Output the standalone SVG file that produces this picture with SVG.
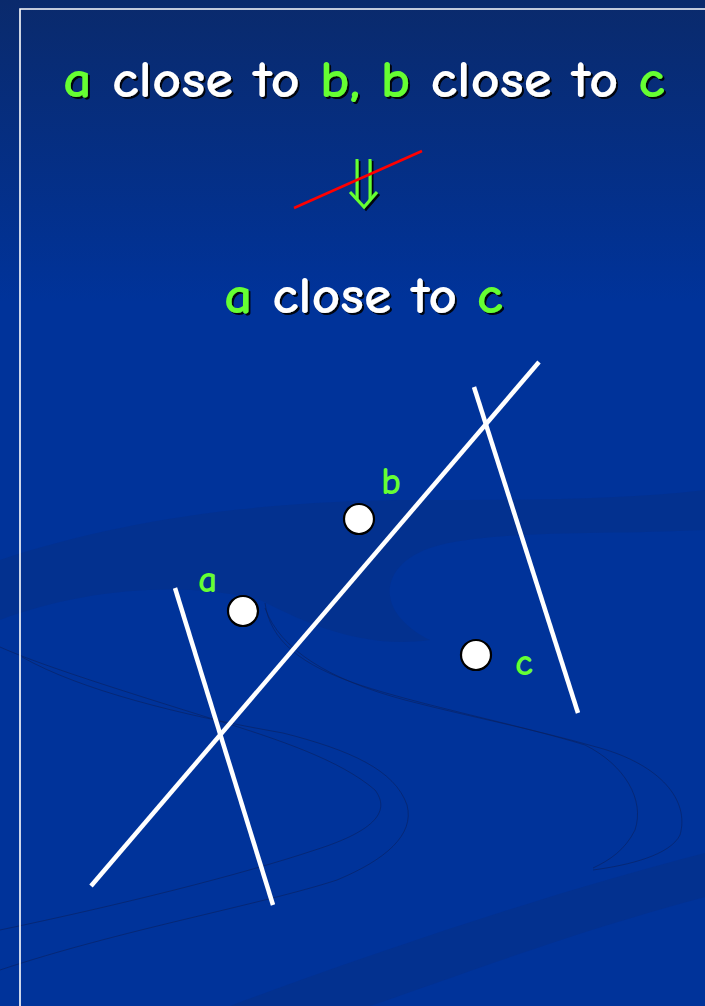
<svg xmlns="http://www.w3.org/2000/svg" width="705" height="1006" viewBox="0 0 705 1006">
<defs>
<linearGradient id="bg" x1="0" y1="0" x2="0" y2="1">
<stop offset="0" stop-color="#0a2a6c"/>
<stop offset="0.3" stop-color="#00339a"/>
<stop offset="1" stop-color="#00339a"/>
</linearGradient>
<filter id="sh" x="-5%" y="-20%" width="115%" height="150%">
<feDropShadow dx="2" dy="2" stdDeviation="0.4" flood-color="#000" flood-opacity="0.9"/>
</filter>
</defs>
<style>
.t{font-family:"Comic Sans MS","Comic Neue","Noto Sans",sans-serif;fill:#fff;font-weight:bold}
.g{fill:#66ff33}
.ln{stroke:#fff;stroke-width:4.5;fill:none}
.pt{fill:#fff;stroke:#000;stroke-width:2.2}
.sw{fill:none;stroke:#0a1f5a;stroke-width:0.8;opacity:0.7}
.dk{fill:#062f86;opacity:0.55}
</style>
<rect width="705" height="1006" fill="url(#bg)"/>
<g id="background">
<path class="dk" d="M0,560 C120,520 260,500 420,500 C520,500 620,500 705,490 L705,530 C600,535 500,530 440,545 C380,560 370,610 430,640 C360,650 300,620 260,600 C180,580 80,590 0,620 Z"/>
<path class="dk" d="M230,1006 C380,950 560,890 705,853 L705,897 C580,930 460,975 370,1006 Z"/>
<path class="sw" d="M0,647 C40,665 120,690 216,720 C280,740 340,760 375,790 C390,810 378,830 315,850 C240,875 120,905 0,930"/>
<path class="sw" d="M22,657 C80,690 180,715 283,733 C350,750 395,770 407,805 C415,835 385,860 337,880 C260,905 120,930 0,970"/>
<path class="sw" d="M265,603 C270,640 300,665 360,685 C420,705 520,725 585,745 C625,765 645,800 635,830 C625,850 610,860 593,868"/>
<path class="sw" d="M265,608 C280,650 330,680 405,700 C470,717 530,728 600,748 C660,765 690,800 680,835 C670,855 630,865 593,870"/>
</g>
<g id="frame">
<path d="M20,1006 V9 H705" fill="none" stroke="#fff" stroke-width="1.6"/>
</g>
<g id="title" filter="url(#sh)">
<text class="t" x="63" y="97" font-size="52" textLength="602" lengthAdjust="spacingAndGlyphs"><tspan class="g">a</tspan> close to <tspan class="g">b, b</tspan> close to <tspan class="g">c</tspan></text>
</g>
<g id="implies">
<g filter="url(#sh)" fill="none" stroke="#66ff33" stroke-width="3">
<path d="M357,159 V200 M370,159 V200"/>
<path d="M350,192 L364,207 L377,192"/>
</g>
<line x1="294" y1="208" x2="422" y2="151" stroke="#ff0000" stroke-width="2.5"/>
</g>
<g id="conclusion" filter="url(#sh)">
<text class="t" x="224" y="313" font-size="52" textLength="279" lengthAdjust="spacingAndGlyphs"><tspan class="g">a</tspan> close to <tspan class="g">c</tspan></text>
</g>
<g id="connectors">
<line class="ln" x1="91" y1="886" x2="539" y2="362"/>
<line class="ln" x1="175" y1="588" x2="273" y2="905"/>
<line class="ln" x1="474" y1="387" x2="578" y2="713"/>
</g>
<g id="node-a">
<circle class="pt" cx="243" cy="611" r="15"/>
<text class="t g" x="198" y="592" font-size="38" font-weight="normal">a</text>
</g>
<g id="node-b">
<circle class="pt" cx="359" cy="519" r="15"/>
<text class="t g" x="381" y="494" font-size="38" font-weight="normal">b</text>
</g>
<g id="node-c">
<circle class="pt" cx="476" cy="655" r="15"/>
<text class="t g" x="515" y="675" font-size="38" font-weight="normal">c</text>
</g>
</svg>
